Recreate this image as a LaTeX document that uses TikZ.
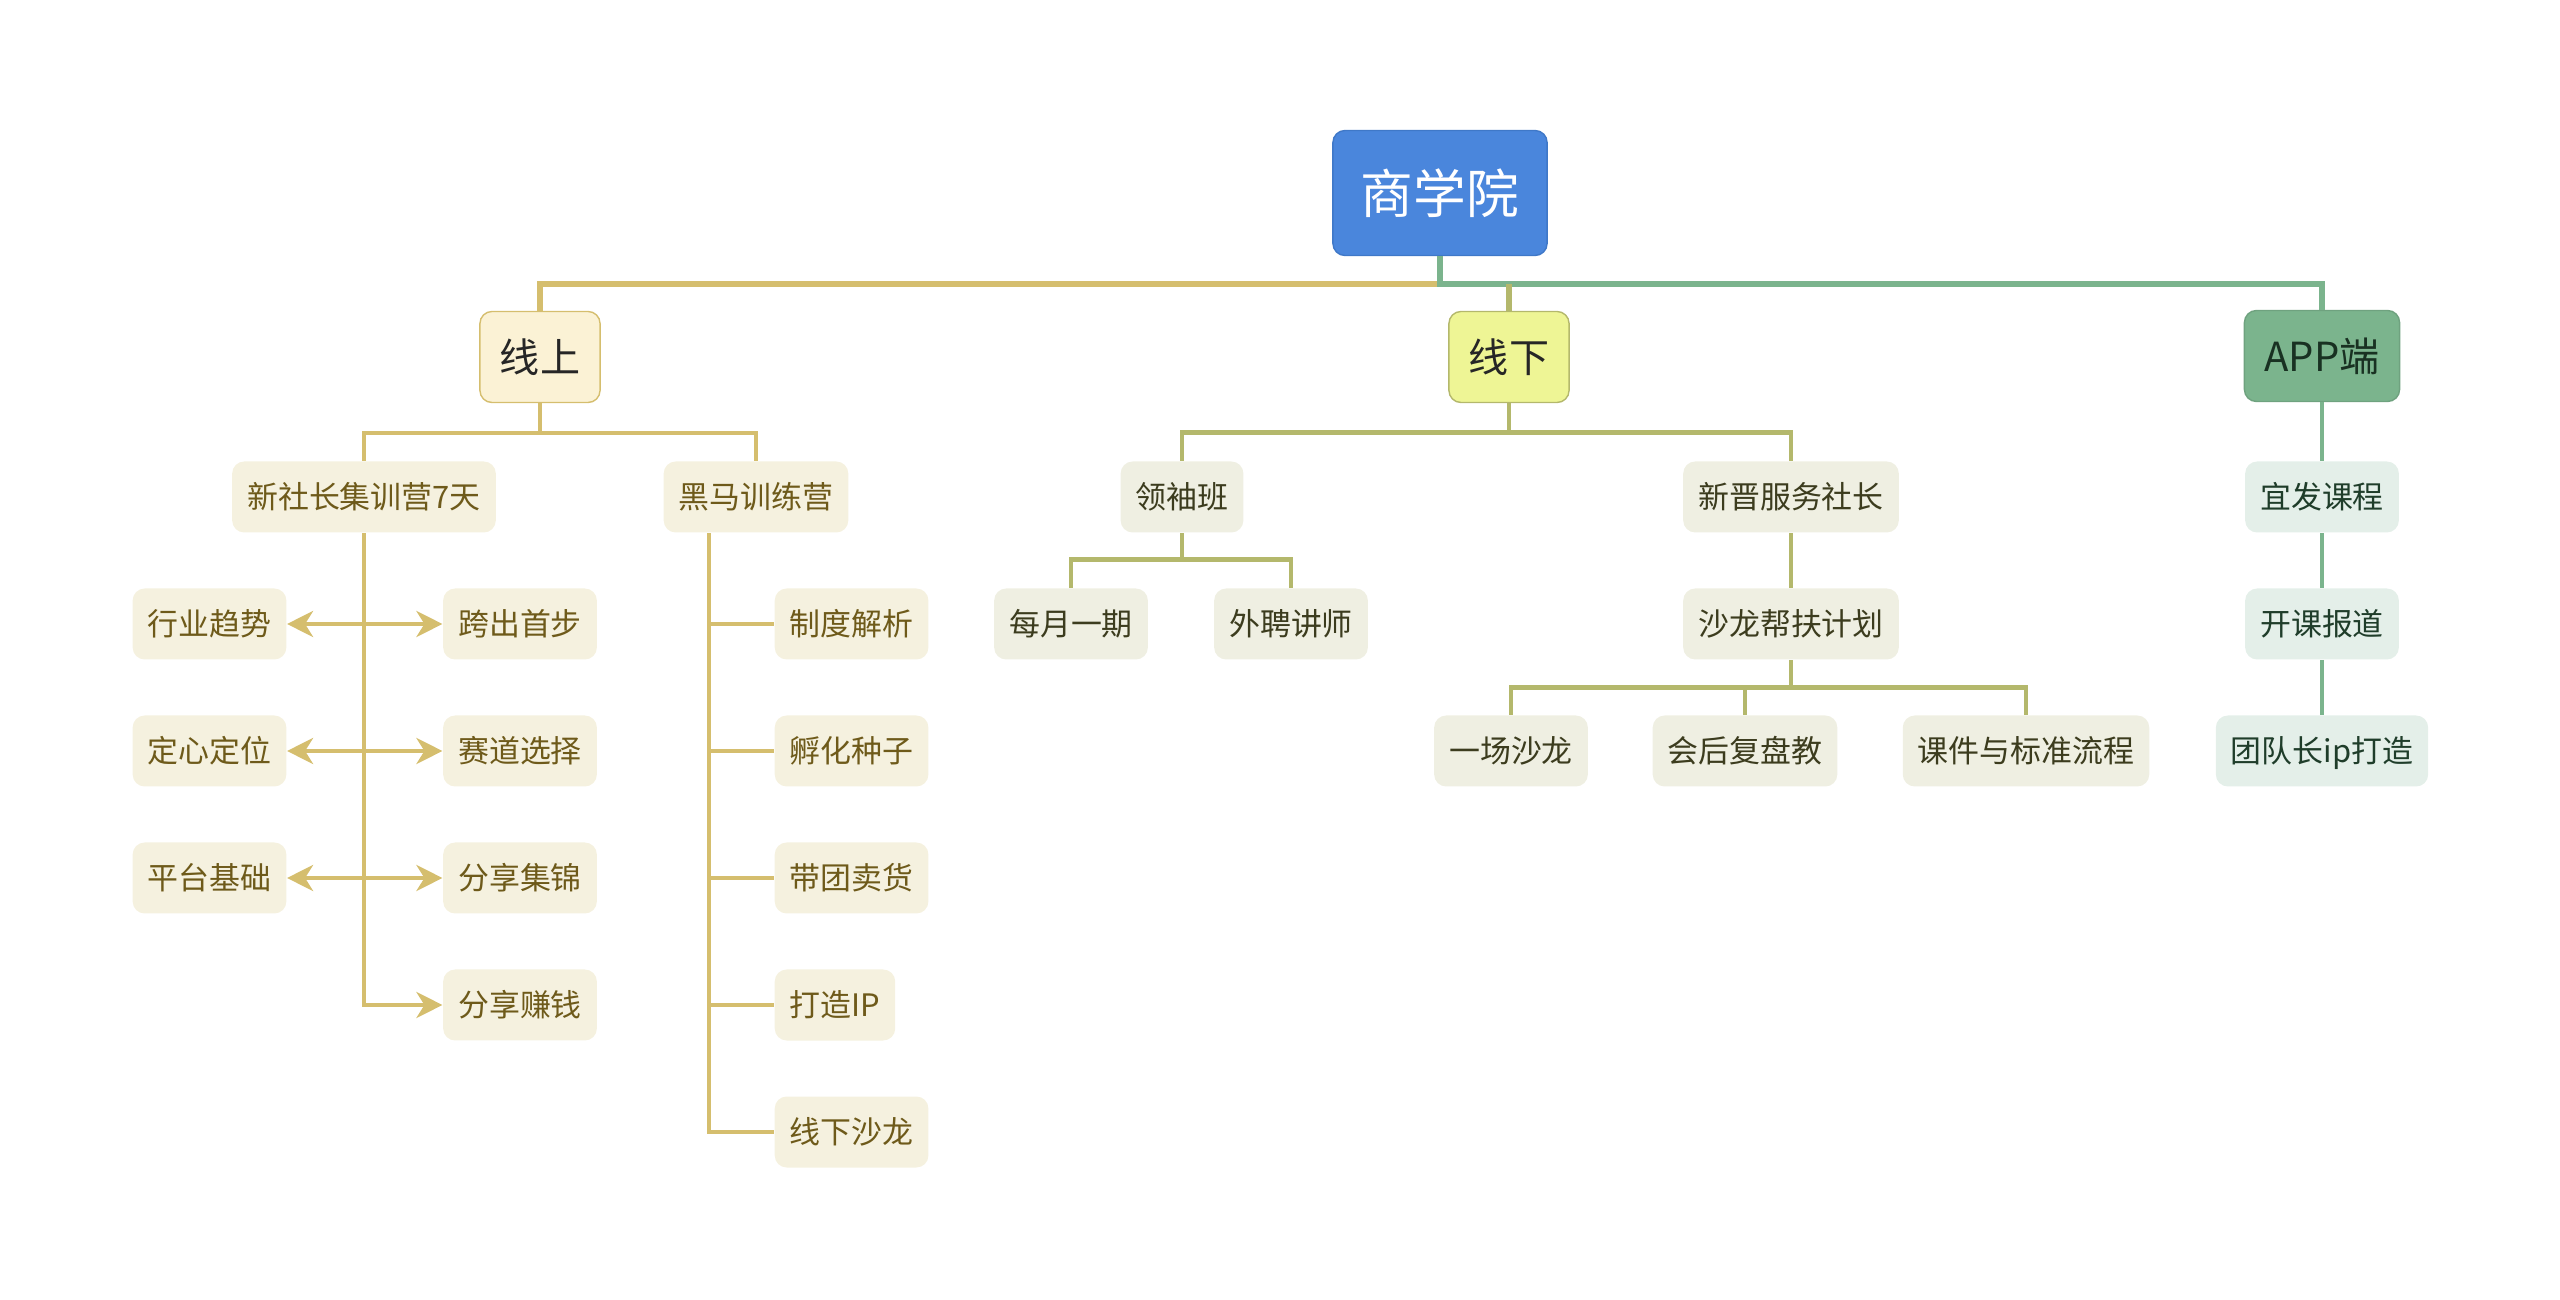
\documentclass[tikz,border=0pt]{standalone}
\usepackage{fontspec}
\setmainfont{Noto Sans CJK SC}
\usetikzlibrary{arrows.meta}
\usetikzlibrary{positioning}

\definecolor{rootblue}{HTML}{4A86DC}
\definecolor{rootedge}{HTML}{3F78C8}
\definecolor{goldline}{HTML}{D5BE6E}
\definecolor{goldtop}{HTML}{FBF2D5}
\definecolor{goldfill}{HTML}{F5F1DF}
\definecolor{goldtext}{HTML}{6E5A1A}
\definecolor{oliveline}{HTML}{B4B86C}
\definecolor{olivetop}{HTML}{EEF595}
\definecolor{olivefill}{HTML}{EFEFE2}
\definecolor{olivetext}{HTML}{3C3C1E}
\definecolor{greenline}{HTML}{7BB48D}
\definecolor{greenfill}{HTML}{E4EFE9}
\definecolor{greentext}{HTML}{1F3D2A}

\tikzset{
    rootbox/.style={
           rectangle,
           rounded corners=0.12cm,
           fill=rootblue, draw=rootedge, thin,
           minimum height=1.25cm,
           inner xsep=0.28cm, inner ysep=0pt,
           text=white,
           font=\fontsize{15}{15}\selectfont,
           text height=11.4pt, text depth=0pt,
           },
    topbox/.style={
           rectangle,
           rounded corners=0.12cm,
           thin,
           minimum height=0.91cm,
           inner xsep=0.20cm, inner ysep=0pt,
           font=\fontsize{11.4}{11.4}\selectfont,
           text height=8.66pt, text depth=0pt,
           },
    subbox/.style={
           rectangle,
           rounded corners=0.12cm,
           minimum height=0.71cm,
           inner xsep=0.15cm, inner ysep=0pt,
           font=\fontsize{8.8}{8.8}\selectfont,
           text height=6.69pt, text depth=0pt,
           },
    goldbox/.style={subbox, fill=goldfill, text=goldtext},
    olivebox/.style={subbox, fill=olivefill, text=olivetext},
    greenbox/.style={subbox, fill=greenfill, text=greentext},
    goldlink/.style={draw=goldline, line width=1.3pt},
    olivelink/.style={draw=oliveline, line width=1.3pt},
    greenlink/.style={draw=greenline, line width=1.3pt},
}

\begin{document}
\begin{tikzpicture}[>={Stealth[length=0.26cm,width=0.26cm,inset=0.08cm]}]
 \useasboundingbox (0,0) rectangle (25.6,-13);

 \node[rootbox] (School) at (14.40,-1.93) {商学院};

 % first level
 \node[topbox, fill=goldtop, draw=goldline, text=black!85,
  below of=School, node distance=1.64cm, xshift=-9.00cm] (Online) {线上};
 \node[topbox, fill=olivetop, draw=oliveline, text=black!85,
  below of=School, node distance=1.64cm, xshift=0.69cm] (Offline) {线下};
 \node[topbox, fill=greenline, draw=greenline!90!black, text=greentext!80!black,
  below of=School, node distance=1.63cm, xshift=8.82cm] (App) {APP端};

 % online branch
 \node[goldbox, below of=Online, node distance=1.40cm, xshift=-1.76cm] (Camp) {新社长集训营7天};
 \node[goldbox, below of=Online, node distance=1.40cm, xshift=2.16cm] (Darkhorse) {黑马训练营};

 \node[goldbox, below of=Camp, node distance=1.27cm, xshift=1.56cm] (Step) {跨出首步};
 \node[goldbox, below of=Step, node distance=1.27cm] (Track) {赛道选择};
 \node[goldbox, below of=Track, node distance=1.27cm] (Share) {分享集锦};
 \node[goldbox, below of=Share, node distance=1.27cm] (Earn) {分享赚钱};
 \node[goldbox, left of=Step, node distance=3.105cm] (Trend) {行业趋势};
 \node[goldbox, left of=Track, node distance=3.105cm] (Mind) {定心定位};
 \node[goldbox, left of=Share, node distance=3.105cm] (Base) {平台基础};

 \node[goldbox, anchor=west] (Rules) at (7.74,-6.24) {制度解析};
 \node[goldbox, anchor=west] (Incubate) at ([yshift=-1.27cm]Rules.west) {孵化种子};
 \node[goldbox, anchor=west] (Sell) at ([yshift=-1.27cm]Incubate.west) {带团卖货};
 \node[goldbox, anchor=west] (BuildIP) at ([yshift=-1.27cm]Sell.west) {打造IP};
 \node[goldbox, anchor=west] (Salon) at ([yshift=-1.27cm]BuildIP.west) {线下沙龙};

 % offline branch
 \node[olivebox, below of=Offline, node distance=1.40cm, xshift=-3.27cm] (Leader) {领袖班};
 \node[olivebox, below of=Offline, node distance=1.40cm, xshift=2.82cm] (Newcomer) {新晋服务社长};
 \node[olivebox, below of=Leader, node distance=1.27cm, xshift=-1.11cm] (Monthly) {每月一期};
 \node[olivebox, below of=Leader, node distance=1.27cm, xshift=1.09cm] (Lecturer) {外聘讲师};
 \node[olivebox, below of=Newcomer, node distance=1.27cm] (Plan) {沙龙帮扶计划};
 \node[olivebox, below of=Plan, node distance=1.27cm, xshift=-2.80cm] (OneSalon) {一场沙龙};
 \node[olivebox, below of=Plan, node distance=1.27cm, xshift=-0.46cm] (Review) {会后复盘教};
 \node[olivebox, below of=Plan, node distance=1.27cm, xshift=2.35cm] (Courseware) {课件与标准流程};

 % app branch
 \node[greenbox, below of=App, node distance=1.41cm] (Release) {宜发课程};
 \node[greenbox, below of=Release, node distance=1.27cm] (Report) {开课报道};
 \node[greenbox, below of=Report, node distance=1.27cm] (TeamIP) {团队长ip打造};

 % the connectors
 \coordinate (TopBus) at ([yshift=-0.28cm]School.south);
 \draw[goldlink, line width=1.6pt] (School.south) -- (TopBus) -| (Online.north);
 \draw[greenlink, line width=1.6pt] (School.south) -- (TopBus) -| (App.north);
 \draw[olivelink, line width=1.6pt] (Offline.north) -- (Offline.north |- TopBus);

 \draw[goldlink] (Online.south) -- ++(0,-0.30) -| (Camp.north);
 \draw[goldlink] (Online.south) -- ++(0,-0.30) -| (Darkhorse.north);

 \draw[goldlink, ->] (Camp.south) |- (Earn.west);
 \draw[goldlink, <->] (Trend.east) -- (Step.west);
 \draw[goldlink, <->] (Mind.east) -- (Track.west);
 \draw[goldlink, <->] (Base.east) -- (Share.west);

 \coordinate (HorseTrunk) at ([xshift=-0.47cm]Darkhorse.south);
 \draw[goldlink] (HorseTrunk) |- (Salon.west);
 \foreach \n in {Rules,Incubate,Sell,BuildIP}
  \draw[goldlink] (HorseTrunk |- \n.west) -- (\n.west);

 \draw[olivelink] (Offline.south) -- ++(0,-0.295) -| (Leader.north);
 \draw[olivelink] (Offline.south) -- ++(0,-0.295) -| (Newcomer.north);
 \draw[olivelink] (Leader.south) -- ++(0,-0.265) -| (Monthly.north);
 \draw[olivelink] (Leader.south) -- ++(0,-0.265) -| (Lecturer.north);
 \draw[olivelink] (Newcomer.south) -- (Plan.north);
 \foreach \n in {OneSalon,Review,Courseware}
  \draw[olivelink] (Plan.south) -- ++(0,-0.275) -| (\n.north);

 \draw[greenlink] (App.south) -- (Release.north);
 \draw[greenlink] (Release.south) -- (Report.north);
 \draw[greenlink] (Report.south) -- (TeamIP.north);

\end{tikzpicture}
\end{document}
